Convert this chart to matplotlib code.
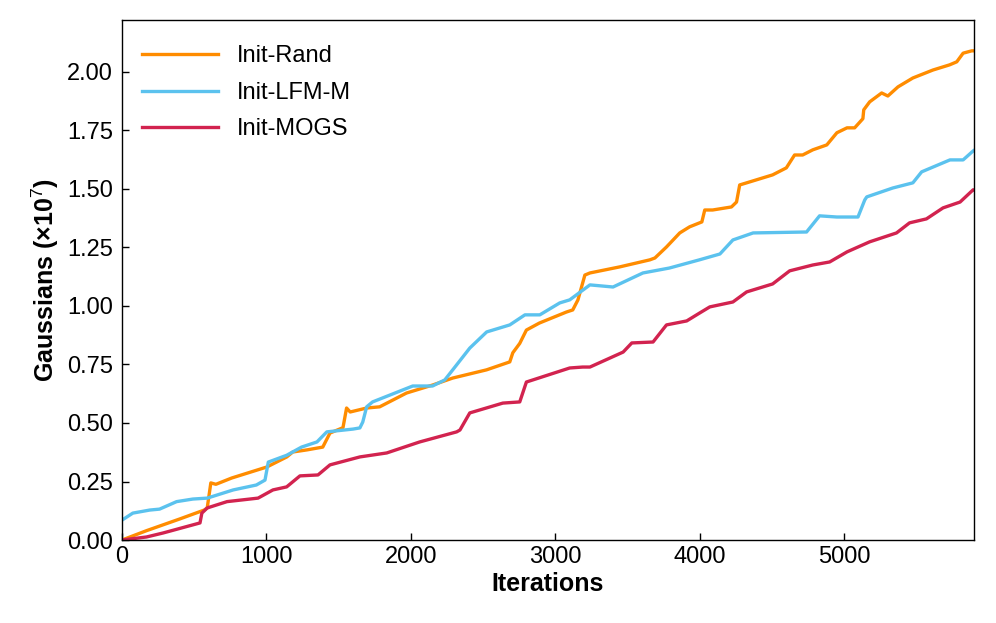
import matplotlib
matplotlib.use("Agg")
import matplotlib.pyplot as plt

plt.rcParams['font.family'] = ['Liberation Sans', 'DejaVu Sans']
plt.rcParams['mathtext.fontset'] = 'custom'
plt.rcParams['mathtext.rm'] = 'Liberation Sans'

# Init-Rand (iterations, gaussians x1e7)
rand_x = [0, 170, 400, 569, 590, 615, 650, 760, 1003, 1141, 1182, 1280, 1390, 1440,
          1530, 1555, 1580, 1694, 1784, 1970, 2150, 2290, 2524, 2685, 2706, 2754,
          2800, 2890, 3077, 3121, 3157, 3205, 3240, 3447, 3655, 3690, 3770, 3862,
          3930, 4015, 4035, 4090, 4220, 4255, 4277, 4325, 4505, 4600, 4657, 4713,
          4783, 4880, 4950, 5020, 5073, 5130, 5136, 5177, 5260, 5303, 5373, 5476,
          5615, 5730, 5780, 5824, 5884, 5900]
rand_y = [0.0, 0.04, 0.09, 0.128, 0.137, 0.244, 0.238, 0.265, 0.312, 0.355, 0.376,
          0.385, 0.397, 0.457, 0.48, 0.564, 0.547, 0.564, 0.569, 0.628, 0.662, 0.692,
          0.727, 0.761, 0.8, 0.84, 0.897, 0.927, 0.974, 0.983, 1.026, 1.132, 1.141,
          1.167, 1.197, 1.205, 1.252, 1.312, 1.338, 1.359, 1.41, 1.41, 1.423, 1.444,
          1.517, 1.526, 1.56, 1.59, 1.645, 1.645, 1.667, 1.688, 1.74, 1.761, 1.761,
          1.8, 1.838, 1.872, 1.91, 1.897, 1.936, 1.974, 2.008, 2.03, 2.043, 2.08,
          2.09, 2.09]

# Init-LFM-M
lfm_x = [0, 75, 192, 260, 378, 490, 590, 770, 930, 990, 1013, 1140, 1243, 1350,
         1418, 1600, 1647, 1667, 1694, 1735, 2013, 2150, 2235, 2290, 2408, 2525,
         2685, 2790, 2893, 3031, 3100, 3240, 3400, 3607, 3790, 3998, 4140, 4230,
         4370, 4740, 4830, 4950, 5096, 5143, 5157, 5337, 5476, 5537, 5733, 5824,
         5893, 5900]
lfm_y = [0.085, 0.115, 0.128, 0.132, 0.164, 0.175, 0.179, 0.214, 0.235, 0.256,
         0.333, 0.362, 0.397, 0.419, 0.462, 0.474, 0.479, 0.504, 0.569, 0.59, 0.658,
         0.658, 0.684, 0.727, 0.82, 0.889, 0.919, 0.962, 0.962, 1.013, 1.026, 1.09,
         1.081, 1.141, 1.162, 1.197, 1.222, 1.282, 1.312, 1.316, 1.385, 1.38, 1.38,
         1.453, 1.466, 1.504, 1.526, 1.573, 1.624, 1.624, 1.662, 1.665]

# Init-MOGS
mogs_x = [0, 170, 284, 540, 553, 590, 727, 942, 1045, 1140, 1232, 1357, 1440, 1647,
          1833, 2061, 2317, 2340, 2408, 2637, 2754, 2800, 2910, 3100, 3190, 3240,
          3470, 3530, 3677, 3770, 3910, 4000, 4070, 4230, 4325, 4505, 4623, 4783,
          4900, 5020, 5177, 5363, 5453, 5570, 5685, 5803, 5893, 5900]
mogs_y = [0.0, 0.013, 0.03, 0.073, 0.115, 0.137, 0.164, 0.179, 0.214, 0.227, 0.274,
          0.278, 0.321, 0.355, 0.372, 0.419, 0.462, 0.47, 0.543, 0.585, 0.59, 0.675,
          0.697, 0.735, 0.739, 0.739, 0.803, 0.842, 0.846, 0.919, 0.936, 0.97, 0.996,
          1.017, 1.06, 1.094, 1.15, 1.175, 1.188, 1.231, 1.274, 1.312, 1.355, 1.372,
          1.419, 1.444, 1.496, 1.496]

fig = plt.figure(figsize=(9.96, 6.23), dpi=100)
ax = fig.add_axes([0.1225, 0.1332, 0.8555, 0.8348])
ax.plot(rand_x, rand_y, color='#FF8C00', lw=2.4, label='Init-Rand')
ax.plot(lfm_x, lfm_y, color='#5BC2EE', lw=2.4, label='Init-LFM-M')
ax.plot(mogs_x, mogs_y, color='#D2234F', lw=2.4, label='Init-MOGS')

ax.set_xlim(0, 5900)
ax.set_ylim(0, 2.222)
ax.set_xticks([0, 1000, 2000, 3000, 4000, 5000])
ax.set_yticks([0, 0.25, 0.5, 0.75, 1.0, 1.25, 1.5, 1.75, 2.0])
ax.set_yticklabels(['%.2f' % v for v in ax.get_yticks()])
ax.tick_params(direction='in', labelsize=17, length=5, width=1)
ax.tick_params(axis='x', pad=4)
ax.tick_params(axis='y', pad=6.5)
for s in ax.spines.values():
    s.set_linewidth(1.0)

ax.set_xlabel('Iterations', fontsize=18, fontweight='bold', labelpad=3)
ax.set_ylabel(r'Gaussians (×10$^{7}$)', fontsize=18, fontweight='bold', labelpad=4)
ax.legend(loc='upper left', bbox_to_anchor=(0, 0.99), frameon=False, fontsize=17,
          handlelength=3.2, labelspacing=0.62, borderaxespad=0.45)

fig.savefig('out.png', dpi=100)
